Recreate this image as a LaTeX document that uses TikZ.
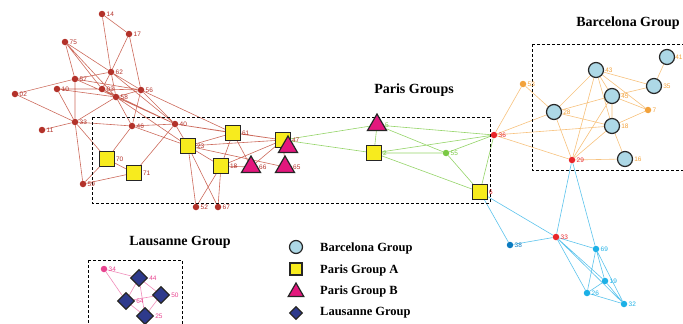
\documentclass[tikz,border=0pt]{standalone}
\usepackage{fontspec}
\setmainfont{Liberation Serif}
\setsansfont{Liberation Sans}
\usetikzlibrary{shapes.geometric, backgrounds}

\definecolor{rednode}{HTML}{B3322A}
\definecolor{rededge}{HTML}{CC6A5C}
\definecolor{hotred}{HTML}{E8262A}
\definecolor{orgnode}{HTML}{F2A23C}
\definecolor{orgedge}{HTML}{F7C27E}
\definecolor{grnnode}{HTML}{7AC943}
\definecolor{bluedark}{HTML}{0B7BC0}
\definecolor{bluenode}{HTML}{1CB0E6}
\definecolor{blueedge}{HTML}{5CC3EC}
\definecolor{pinknode}{HTML}{E8438F}
\definecolor{pinkedge}{HTML}{F08DBA}
\definecolor{sqyellow}{HTML}{F7EB1E}
\definecolor{trimag}{HTML}{E3177D}
\definecolor{circblue}{HTML}{ADD8E6}
\definecolor{diablue}{HTML}{2E3A8C}

\begin{document}
\begin{tikzpicture}[x=1pt, y=-1pt,
      dot/.style={circle, fill=#1, inner sep=0pt, minimum size=6.5pt},
      lbl/.style={font=\sffamily\fontsize{6.5}{7}\selectfont, inner sep=1pt},
      sq/.style={rectangle, draw=black!85, line width=1.3pt, fill=sqyellow, minimum size=14.5pt, inner sep=0pt},
      tri/.style={regular polygon, regular polygon sides=3, draw=black!85, line width=1.2pt, fill=trimag, minimum size=22pt, inner sep=0pt},
      circ/.style={circle, draw=black!85, line width=1.2pt, fill=circblue, minimum size=15pt, inner sep=0pt},
      dia/.style={diamond, draw=black!85, line width=1.2pt, fill=diablue, minimum size=17pt, inner sep=0pt},
      box/.style={draw, dashed, line width=1pt, dash pattern=on 3pt off 2pt},
      ttl/.style={font=\bfseries\fontsize{14}{16}\selectfont},
      leg/.style={font=\bfseries\fontsize{12.5}{14}\selectfont, anchor=west, inner sep=0pt}]

      \useasboundingbox (0,0) rectangle (683,324);

      % group frames
      \draw[box] (92,117) rectangle (490,203);
      \draw[box] (532,44) rectangle (690,170);
      \draw[box] (88,260) rectangle (182,330);

      \node[ttl] (tparis) at (414,90) {Paris Groups};
      \node[ttl] (tbarca) at (628,23) {Barcelona Group};
      \node[ttl] (tlaus) at (180,242) {Lausanne Group};

      % left cluster
      \node[dot=rednode, label={[lbl, text=rednode]right:14}] (r14) at (102,14) {};
      \node[dot=rednode, label={[lbl, text=rednode]right:17}] (r17) at (129,34) {};
      \node[dot=rednode, label={[lbl, text=rednode]right:75}] (r75) at (65,42) {};
      \node[dot=rednode, label={[lbl, text=rednode]right:62}] (r62) at (111,72) {};
      \node[dot=rednode, label={[lbl, text=rednode]right:57}] (r57) at (75,79) {};
      \node[dot=rednode, label={[lbl, text=rednode]right:02}] (r02) at (15,94) {};
      \node[dot=rednode, label={[lbl, text=rednode]right:10}] (r10) at (57,89) {};
      \node[dot=rednode, label={[lbl, text=rednode]right:03}] (r03) at (102,89) {};
      \node[dot=rednode, label={[lbl, text=rednode]right:56}] (r56) at (141,90) {};
      \node[dot=rednode, label={[lbl, text=rednode]right:58}] (r58) at (116,97) {};
      \node[dot=rednode, label={[lbl, text=rednode]right:33}] (r33) at (75,122) {};
      \node[dot=rednode, label={[lbl, text=rednode]right:11}] (r11) at (42,130) {};
      \node[dot=rednode, label={[lbl, text=rednode]right:46}] (r46) at (132,126) {};
      \node[dot=rednode, label={[lbl, text=rednode]right:40}] (r40) at (175,124) {};
      \node[dot=rednode, label={[lbl, text=rednode]right:59}] (r59) at (83,184) {};
      \node[dot=rednode, label={[lbl, text=rednode]right:52}] (r52) at (196,207) {};
      \node[dot=rednode, label={[lbl, text=rednode]right:67}] (r67) at (218,207) {};

      \node[sq, label={[lbl, text=rednode]right:70}] (r70) at (107,159) {};
      \node[sq, label={[lbl, text=rednode]right:71}] (r71) at (134,173) {};
      \node[sq, label={[lbl, text=rednode]right:23}] (r23) at (188,146) {};
      \node[sq, label={[lbl, text=rednode]right:61}] (r61) at (233,133) {};
      \node[sq, label={[lbl, text=rednode]right:18}] (r18) at (221,166) {};
      \node[sq, label={[lbl, text=rednode]right:47}] (r47) at (283,140) {};
      \node[tri, label={[lbl, text=rednode]right:66}] (r66) at (251,167) {};
      \node[tri, label={[lbl, text=rednode]right:65}] (r65) at (285,167) {};
      \node[tri] (t47) at (288,147) {};

      % middle
      \node[tri, label={[lbl, text=grnnode]right:5}] (g5) at (377,125) {};
      \node[sq, label={[lbl, text=grnnode]right:2}] (g2) at (374,153) {};
      \node[dot=grnnode, label={[lbl, text=grnnode]right:55}] (g55) at (446,153) {};
      \node[dot=hotred, label={[lbl, text=hotred]right:36}] (h36) at (494,135) {};
      \node[sq, label={[lbl, text=hotred]right:6}] (g6) at (480,192) {};

      % right cluster
      \node[dot=orgnode, label={[lbl, text=orgnode]right:53}] (o53) at (523,84) {};
      \node[circ, label={[lbl, text=orgnode]right:28}] (o28) at (554,112) {};
      \node[circ, label={[lbl, text=orgnode]right:43}] (o43) at (596,70) {};
      \node[circ, label={[lbl, text=orgnode, inner sep=0pt]right:41}] (o41) at (667,57) {};
      \node[circ, label={[lbl, text=orgnode]right:35}] (o35) at (654,86) {};
      \node[circ, label={[lbl, text=orgnode]right:45}] (o45) at (612,96) {};
      \node[dot=orgnode, label={[lbl, text=orgnode]right:7}] (o7) at (648,110) {};
      \node[circ, label={[lbl, text=orgnode]right:18}] (o18) at (612,126) {};
      \node[circ, label={[lbl, text=orgnode]right:16}] (o16) at (625,159) {};
      \node[dot=hotred, label={[lbl, text=hotred]right:29}] (h29) at (572,160) {};

      % lower right
      \node[dot=bluedark, label={[lbl, text=bluedark]right:38}] (b38) at (510,245) {};
      \node[dot=hotred, label={[lbl, text=hotred]right:33}] (h33) at (556,237) {};
      \node[dot=bluenode, label={[lbl, text=bluenode]right:69}] (b69) at (596,249) {};
      \node[dot=bluenode, label={[lbl, text=bluenode]right:19}] (b19) at (605,281) {};
      \node[dot=bluenode, label={[lbl, text=bluenode]right:26}] (b26) at (587,293) {};
      \node[dot=bluenode, label={[lbl, text=bluenode]right:32}] (b32) at (624,304) {};

      % lausanne
      \node[dot=pinknode, label={[lbl, text=pinknode]right:34}] (p34) at (104,269) {};
      \node[dia, label={[lbl, text=pinknode]right:44}] (p44) at (139,278) {};
      \node[dia, label={[lbl, text=pinknode]right:50}] (p50) at (161,295) {};
      \node[dia, label={[lbl, text=pinknode]right:64}] (p64) at (126,301) {};
      \node[dia, label={[lbl, text=pinknode]right:25}] (p25) at (145,316) {};

      \begin{scope}[on background layer]
      \draw[rededge, line width=0.6pt] (r14) -- (r17) (r14) -- (r62) (r17) -- (r62) (r17) -- (r56)
            (r75) -- (r57) (r75) -- (r62) (r75) -- (r58) (r75) -- (r03)
            (r57) -- (r62) (r57) -- (r02) (r57) -- (r33) (r57) -- (r58) (r57) -- (r56)
            (r02) -- (r33) (r10) -- (r03) (r10) -- (r58) (r10) -- (r33)
            (r62) -- (r03) (r62) -- (r58) (r62) -- (r40) (r62) -- (r56)
            (r03) -- (r56) (r03) -- (r58) (r03) -- (r40)
            (r58) -- (r56) (r58) -- (r33) (r58) -- (r46) (r58) -- (r23) (r58) -- (r40)
            (r56) -- (r46) (r56) -- (r40) (r56) -- (r61)
            (r33) -- (r11) (r33) -- (r59) (r33) -- (r46) (r33) -- (r70)
            (r46) -- (r70) (r46) -- (r40) (r46) -- (r23)
            (r40) -- (r23) (r40) -- (r71) (r40) -- (r61) (r40) -- (r47)
            (r70) -- (r71) (r59) -- (r71) (r59) -- (r70)
            (r23) -- (r61) (r23) -- (r18) (r23) -- (r52) (r23) -- (r67) (r23) -- (r47) (r23) -- (r65)
            (r61) -- (r18) (r61) -- (r47) (r61) -- (r66)
            (r18) -- (r52) (r18) -- (r67) (r18) -- (r66) (r18) -- (r47)
            (r66) -- (r47) (r65) -- (r47);
      \draw[grnnode!80, line width=0.6pt] (r47) -- (g5) (r47) -- (g2)
            (g5) -- (g2) (g5) -- (h36) (g5) -- (g55) (g2) -- (h36) (g2) -- (g55) (g2) -- (g6)
            (g55) -- (h36) (g55) -- (g6) (h36) -- (g6);
      \draw[orgedge, line width=0.6pt] (h36) -- (o53) (h36) -- (o28) (h36) -- (o18) (h36) -- (h29)
            (o53) -- (o28) (o28) -- (o43) (o28) -- (o45) (o28) -- (o18) (o28) -- (h29)
            (o43) -- (o45) (o43) -- (o18) (o43) -- (o35) (o43) -- (h29) (o43) -- (o7)
            (o45) -- (o35) (o45) -- (o18) (o45) -- (h29) (o45) -- (o7) (o41) -- (o35)
            (o18) -- (o7) (o18) -- (h29) (o18) -- (o16) (h29) -- (o16);
      \draw[blueedge, line width=0.6pt] (g6) -- (b38) (g6) -- (h33) (b38) -- (h33)
            (h29) -- (h33) (h29) -- (b69) (h33) -- (b69) (h33) -- (b19) (h33) -- (b26) (h33) -- (b32)
            (b69) -- (b19) (b69) -- (b26) (b69) -- (b32) (b19) -- (b26) (b19) -- (b32) (b26) -- (b32);
      \draw[pinkedge, line width=0.6pt] (p34) -- (p44) (p34) -- (p64) (p44) -- (p64) (p44) -- (p50)
            (p44) -- (p25) (p64) -- (p50) (p64) -- (p25) (p50) -- (p25);
      \end{scope}

      % legend
      \node[circ, minimum size=13pt] (kcirc) at (296,247) {};
      \node[sq, minimum size=12pt] (ksq) at (296,269) {};
      \node[tri, minimum size=18pt] (ktri) at (296,292) {};
      \node[dia, minimum size=13pt] (kdia) at (296,313) {};
      \node[leg] (lcirc) at (320,248) {Barcelona Group};
      \node[leg] (lsq) at (320,270) {Paris Group A};
      \node[leg] (ltri) at (320,291) {Paris Group B};
      \node[leg] (ldia) at (320,313) {Lausanne Group};
\end{tikzpicture}
\end{document}
